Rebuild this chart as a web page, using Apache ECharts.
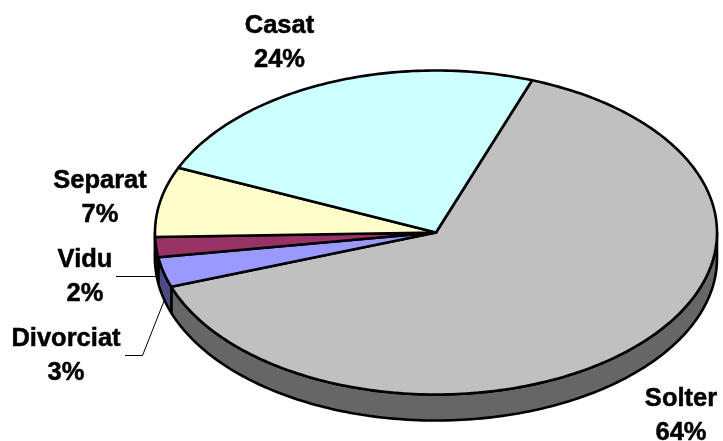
<!DOCTYPE html>
<html>
<head>
<meta charset="utf-8">
<style>html,body{margin:0;padding:0;background:#fff}#c{width:723px;height:441px}</style>
<script src="https://cdn.jsdelivr.net/npm/echarts@6/dist/echarts.min.js"></script>
</head>
<body>
<div id="c"></div>
<script>
const categories = ['Solter', 'Divorciat', 'Vidu', 'Separat', 'Casat'];
const percents = [64, 3, 2, 7, 24];
const topColors = ['#C0C0C0', '#9999FF', '#993366', '#FFFFCC', '#CCFFFF'];
const wallColors = ['#666666', '#4C4C80', '#4D1933', '#808066', '#668080'];

// Layout of the tilted pie and its labels
const CX = 436, CY = 232.5, RX = 281, RY = 162, DEPTH = 26, START_DEG = 20;
const labelCenters = [[681, 416], [66, 355.5], [85, 276.5], [100, 197.5], [279.5, 42.5]];
const leaders = [null, [[125, 355.5], [142.5, 355.5], [164, 301]], [[116, 276.5], [156, 276.5]], null, null];
const FONT_SIZE = 25.5, LINE_H = 34;

const total = percents.reduce((a, b) => a + b, 0);
const startAngles = [];
percents.reduce((acc, v, i) => { startAngles[i] = acc; return acc + v / total * 360; }, START_DEG);

function pt(deg, dy) {
  const t = deg * Math.PI / 180;
  return [CX + RX * Math.sin(t), CY - RY * Math.cos(t) + (dy || 0)];
}
function arc(a, b, dy) {
  const n = Math.max(2, Math.ceil(Math.abs(b - a)));
  const out = [];
  for (let i = 0; i <= n; i++) out.push(pt(a + (b - a) * i / n, dy));
  return out;
}
const sliceStyle = (fill) => ({ fill: fill, stroke: '#000', lineWidth: 2.6, lineJoin: 'round' });

function renderWall(params, api) {
  const i = api.value(0);
  const a0 = startAngles[i], a1 = a0 + api.value(1) / total * 360;
  const lo = Math.max(a0, 90), hi = Math.min(a1, 270);
  if (hi <= lo) return { type: 'group', children: [] };
  const pts = arc(lo, hi, 0).concat(arc(hi, lo, DEPTH));
  return { type: 'polygon', shape: { points: pts }, style: sliceStyle(wallColors[i]) };
}

function renderTop(params, api) {
  const i = api.value(0);
  const a0 = startAngles[i], a1 = a0 + api.value(1) / total * 360;
  const pts = [[CX, CY]].concat(arc(a0, a1, 0));
  return { type: 'polygon', shape: { points: pts }, style: sliceStyle(topColors[i]) };
}

function renderLabel(params, api) {
  const i = api.value(0);
  const c = labelCenters[i];
  const children = [{
    type: 'text',
    style: {
      text: categories[i] + '\n' + api.value(1) + '%',
      x: c[0], y: c[1],
      textAlign: 'center', textVerticalAlign: 'middle',
      fontFamily: '"Liberation Sans", Arial, sans-serif',
      fontWeight: 'bold', fontSize: FONT_SIZE, lineHeight: LINE_H,
      fill: '#000', stroke: '#000', lineWidth: 0.5
    }
  }];
  if (leaders[i]) {
    children.push({
      type: 'polyline', shape: { points: leaders[i] },
      style: { fill: 'none', stroke: '#000', lineWidth: 1 }
    });
  }
  return { type: 'group', children: children };
}

const rows = percents.map((v, i) => [i, v]);
const chart = echarts.init(document.getElementById('c'), null, { renderer: 'canvas' });
chart.setOption({
  animation: false,
  backgroundColor: '#fff',
  series: [
    { type: 'custom', coordinateSystem: 'none', z: 1, renderItem: renderWall, data: rows, silent: true },
    { type: 'custom', coordinateSystem: 'none', z: 2, renderItem: renderTop, data: rows, silent: true },
    { type: 'custom', coordinateSystem: 'none', z: 3, renderItem: renderLabel, data: rows, silent: true }
  ]
});
</script>
</body>
</html>
